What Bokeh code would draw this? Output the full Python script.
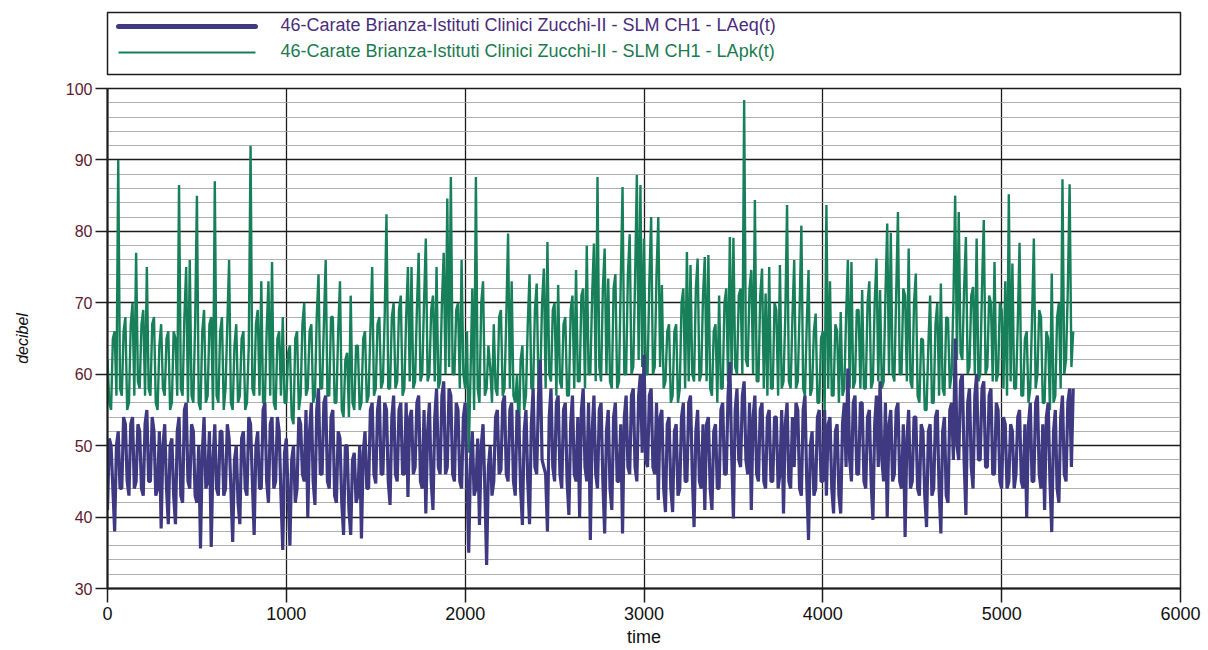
from bokeh.plotting import figure
from bokeh.models import Range1d, FixedTicker, Label
from bokeh.layouts import column
from bokeh.embed import file_html
from bokeh.resources import INLINE
from bokeh.core.properties import value

# ---------------- data ----------------
series_names = [
    "46-Carate Brianza-Istituti Clinici Zucchi-II - SLM CH1 - LAeq(t)",
    "46-Carate Brianza-Istituti Clinici Zucchi-II - SLM CH1 - LApk(t)",
]
y_ticks = [30, 40, 50, 60, 70, 80, 90, 100]
y_minor = [32, 34, 36, 38, 42, 44, 46, 48, 52, 54, 56, 58, 62, 64, 66, 68,
           72, 74, 76, 78, 82, 84, 86, 88, 92, 94, 96, 98]
x_ticks = [0, 1000, 2000, 3000, 4000, 5000, 6000]

# sample times (s), one reading every 10 s
time_s = list(range(0, 5401, 10))

# LApk readings at t = 0, 20, 40, ... 5400 s
lapk_even = [
    62, 55, 66, 90, 57, 68, 56, 70, 77, 58,
    69, 75, 57, 68, 55, 67, 57, 66, 56, 65,
    86.5, 57, 75, 76, 56, 85, 55, 69, 57, 68,
    87, 56, 68, 58, 76, 55, 67, 57, 66, 56,
    92, 57, 69, 73, 56, 73, 75.7, 55, 66, 68,
    56, 64, 53, 66, 57, 70, 58, 67, 57, 74,
    58, 76, 57, 68, 56, 73, 54, 63, 71, 55,
    64, 56, 66, 57, 75, 58, 68, 59, 82.4, 58,
    70, 59, 71, 58, 75, 75, 59, 77, 60, 79,
    60, 71, 75, 59, 77, 84.6, 87.6, 60, 70, 76,
    58, 49, 72, 87.6, 56, 73, 58, 61, 67, 57,
    69, 58, 79.7, 73, 56, 51, 64, 57, 74, 58,
    72.7, 59, 74.8, 78.5, 59, 70, 72.5, 58, 68, 57,
    71, 74.6, 59, 72, 78, 60, 78.3, 87.6, 59, 77.6,
    73.4, 58, 74, 59, 86.2, 60, 79.6, 61, 87.9, 86.5,
    79, 60, 82, 61, 82, 72.5, 59, 67, 57, 67,
    58, 72, 77.1, 75.3, 59, 76.2, 60, 76.4, 76.7, 57,
    67, 71, 58, 72, 79.2, 79.1, 60, 72, 98.4, 61,
    74.6, 84.4, 59, 74.8, 71.3, 75, 58, 69, 75.3, 59,
    83.7, 58, 76, 59, 80.8, 57, 74.6, 58, 68.5, 56,
    66, 83.7, 73, 57, 66, 68.7, 58, 76, 75.7, 59,
    69, 71.8, 58, 73, 59, 76.2, 71.8, 59, 81.1, 79.8,
    59, 82.7, 60, 71, 77.6, 58, 74.1, 56, 64.8, 55,
    71, 56, 70, 72.7, 57, 67.8, 60, 85, 82.7, 62,
    79.2, 61, 72.2, 79, 60, 81.6, 61, 70, 75.7, 60,
    69, 73, 85.2, 75.5, 58, 78.4, 57, 66, 58, 79,
    60, 68, 56, 65, 74.1, 57, 70, 87.3, 62, 86.6,
    66,
]
# LApk readings at t = 10, 30, 50, ... 5390 s
lapk_odd = [
    56, 65, 57, 58, 66, 55, 67, 57, 59, 67,
    57, 58, 67, 56, 64, 58, 65, 55, 66, 57,
    58, 68, 56, 57, 67, 56, 66, 56, 67, 55,
    57, 66, 55, 67, 56, 64, 56, 65, 55, 64,
    58, 67, 57, 56, 66, 57, 56, 65, 57, 56,
    63, 54, 65, 55, 67, 57, 66, 56, 68, 58,
    67, 57, 68, 56, 66, 55, 62, 54, 56, 64,
    55, 65, 56, 66, 57, 67, 58, 68, 58, 68,
    58, 69, 57, 68, 59, 58, 69, 59, 70, 59,
    69, 59, 58, 70, 60, 61, 60, 69, 58, 60,
    66, 60, 55, 58, 70, 57, 64, 56, 58, 68,
    57, 68, 58, 57, 60, 62, 55, 67, 58, 69,
    58, 70, 58, 60, 69, 57, 59, 67, 57, 69,
    58, 59, 71, 58, 60, 71, 59, 61, 72, 60,
    59, 72, 58, 73, 60, 74, 60, 73, 62, 61,
    60, 73, 60, 74, 61, 58, 66, 56, 66, 56,
    70, 58, 59, 60, 72, 59, 71, 59, 58, 66,
    56, 58, 70, 59, 60, 61, 71, 60, 62, 72,
    60, 59, 71, 58, 57, 58, 70, 57, 58, 68,
    59, 68, 58, 69, 58, 67, 57, 66, 56, 65,
    55, 58, 57, 67, 56, 57, 68, 58, 58, 69,
    58, 58, 70, 58, 70, 59, 58, 71, 60, 60,
    71, 60, 72, 59, 59, 70, 57, 65, 55, 64,
    56, 67, 57, 58, 68, 58, 70, 62, 63, 72,
    60, 71, 60, 59, 72, 60, 71, 59, 59, 70,
    58, 57, 59, 58, 67, 57, 65, 56, 68, 58,
    69, 56, 66, 55, 56, 68, 58, 60, 72, 61,
]

# LAeq readings at t = 0, 20, 40, ... 5400 s
laeq_even = [
    41, 50, 38, 52, 44, 53, 43, 54, 45, 52,
    43, 55, 45, 52, 44, 38.4, 53, 39, 51, 39,
    54, 42, 56, 44, 52, 42, 35.6, 54, 45, 35.8,
    53, 43, 52, 44, 51, 36.5, 50, 39, 52, 43,
    53, 37.5, 52, 44, 56, 42, 54, 45, 52, 35.4,
    51, 36, 50, 44, 53, 45, 40, 56, 41.7, 58,
    46, 57, 44, 55, 42, 51, 37.5, 50, 37.5, 49,
    43, 37, 52, 44, 56, 44.7, 57, 46, 55, 41.7,
    57, 45, 56, 46, 42.8, 55, 47, 57, 44, 40.5,
    56, 41, 58, 46, 59, 47, 57, 45, 55, 44,
    56, 35, 52, 44, 38.9, 53, 33.3, 50, 45, 55,
    46.6, 57, 45, 56, 43, 54, 38.9, 55, 39, 58,
    46, 62, 47, 38, 58, 45, 57, 44, 56, 40.3,
    57, 45, 40, 58, 45, 36.8, 57, 44, 56, 37.7,
    55, 41, 56, 45, 37.7, 57, 46, 58, 45, 60,
    62.7, 47, 58, 46, 42.4, 55, 40.7, 54, 40.7, 53,
    44, 56, 45, 57, 38.6, 55, 44, 41, 54, 41,
    53, 44, 56, 46, 61.7, 39.8, 58, 47, 59, 46,
    41, 57, 45, 56, 44, 55, 45, 54, 46, 40.5,
    56, 44, 47, 55, 43, 57, 36.8, 52, 44, 55,
    45, 43, 54, 40.5, 53, 40.5, 56, 60.8, 45, 57,
    46, 56, 44, 55, 39.6, 57, 59, 45, 40, 55,
    46, 56, 44, 37.2, 55, 45, 54, 43, 52, 38.6,
    53, 44, 55, 37.7, 54, 42, 56, 65, 48, 60,
    40.3, 58, 44, 60, 48, 59, 47, 58, 46, 55,
    44, 53, 45, 52, 46, 55, 44, 40, 56, 45,
    57, 44, 41, 56, 37.9, 55, 42, 57, 45, 58,
    58,
]
# LAeq readings at t = 10, 30, 50, ... 5390 s
laeq_odd = [
    51, 44, 50, 44, 54, 45, 53, 44, 53, 44,
    53, 45, 54, 43, 52, 50, 44, 50, 43, 52,
    43, 55, 45, 53, 43, 50, 49, 44, 52, 48,
    44, 52, 43, 53, 44, 48, 42, 51, 44, 54,
    45, 50, 44, 55, 45, 53, 44, 54, 43, 49,
    43, 48, 42, 54, 46, 55, 52, 45, 55, 46,
    56, 45, 54, 43, 52, 42, 50, 41, 48, 42,
    50, 49, 44, 55, 46, 55, 46, 56, 45, 54,
    46, 55, 46, 56, 54, 46, 56, 45, 55, 52,
    45, 54, 47, 57, 46, 58, 46, 56, 45, 54,
    45, 48, 43, 51, 50, 44, 47, 43, 54, 46,
    56, 46, 55, 45, 55, 44, 52, 45, 53, 47,
    57, 48, 46, 54, 47, 56, 46, 55, 45, 53,
    46, 54, 55, 47, 56, 52, 46, 55, 45, 52,
    44, 54, 45, 53, 54, 47, 57, 47, 57, 49,
    48, 57, 47, 56, 54, 44, 53, 44, 52, 43,
    54, 45, 56, 46, 52, 45, 53, 53, 44, 52,
    44, 55, 46, 57, 49, 55, 48, 57, 48, 56,
    54, 46, 55, 45, 54, 45, 54, 44, 55, 53,
    45, 54, 56, 44, 55, 45, 50, 43, 54, 45,
    55, 53, 44, 52, 43, 53, 47, 48, 56, 46,
    56, 45, 54, 45, 53, 47, 48, 56, 53, 45,
    55, 45, 53, 51, 44, 54, 44, 53, 43, 52,
    43, 54, 44, 52, 43, 55, 48, 50, 59, 48,
    56, 47, 57, 48, 58, 47, 57, 46, 56, 45,
    54, 44, 53, 44, 54, 45, 53, 53, 45, 56,
    46, 53, 54, 45, 52, 44, 54, 46, 56, 47,
]

# merge the two reading sets into time order
lapk = [v for pair in zip(lapk_even, lapk_odd) for v in pair] + [lapk_even[-1]]
laeq = [v for pair in zip(laeq_even, laeq_odd) for v in pair] + [laeq_even[-1]]

# ---------------- style ----------------
FONT = "Liberation Sans"
PURPLE = "#3f3982"
GREEN = "#17805a"
PURPLE_TXT = "#4a2c7c"
GREEN_TXT = "#1a7b50"
MAROON = "#5e1a2e"
DARK = "#1c1c1c"

# ---------------- legend strip ----------------
leg = figure(width=1208, height=80, x_range=Range1d(0, 1073), y_range=Range1d(62, 0),
             output_backend="svg", toolbar_location=None,
             x_axis_location=None, y_axis_location=None,
             min_border_left=107, min_border_right=28, min_border_top=12, min_border_bottom=6)
leg.grid.visible = False
leg.outline_line_color = DARK
leg.outline_line_width = 1.5
leg.line(x=[11, 148], y=[14, 14], line_width=5, line_color=PURPLE, line_cap="round")
leg.line(x=[11, 148], y=[40, 40], line_width=2, line_color=GREEN)
leg.text(x=[173, 173], y=[12, 38], text=series_names,
         text_color=[PURPLE_TXT, GREEN_TXT], text_font=value(FONT),
         text_font_size="18px", text_baseline="middle", text_align="left")

# ---------------- main chart ----------------
p = figure(width=1208, height=570, x_range=Range1d(0, 6000), y_range=Range1d(30, 100),
           output_backend="svg", toolbar_location=None,
           min_border_left=107, min_border_right=28, min_border_top=8, min_border_bottom=62)

p.line(time_s, lapk, line_color=GREEN, line_width=2.4)
p.line(time_s, laeq, line_color=PURPLE, line_width=3.2)

p.xaxis.ticker = FixedTicker(ticks=x_ticks)
p.yaxis.ticker = FixedTicker(ticks=y_ticks, minor_ticks=y_minor)

p.ygrid.grid_line_color = DARK
p.ygrid.grid_line_width = 1.3
p.ygrid.minor_grid_line_color = "#9c9c9c"
p.ygrid.minor_grid_line_width = 0.8
p.xgrid.grid_line_color = DARK
p.xgrid.grid_line_width = 1.3
p.outline_line_color = DARK
p.outline_line_width = 1.5

for ax in (p.xaxis[0], p.yaxis[0]):
    ax.axis_line_color = DARK
    ax.axis_line_width = 2
    ax.major_tick_line_color = DARK
    ax.major_tick_line_width = 1.5
    ax.major_tick_in = 0
    ax.minor_tick_line_color = None
    ax.axis_label_text_font = FONT
    ax.axis_label_text_color = "#111111"

p.yaxis.major_tick_out = 12
p.yaxis.major_label_standoff = 3
p.yaxis.major_label_text_color = MAROON
p.yaxis.major_label_text_font = FONT
p.yaxis.major_label_text_font_size = "16px"
p.yaxis.axis_label = "decibel"
p.yaxis.axis_label_text_font_style = "italic"
p.yaxis.axis_label_text_font_size = "16px"
p.yaxis.axis_label_standoff = 32

p.xaxis.major_tick_out = 14
p.xaxis.major_label_standoff = 4
p.xaxis.major_label_text_color = "#111111"
p.xaxis.major_label_text_font = FONT
p.xaxis.major_label_text_font_size = "18px"
p.xaxis.axis_label = "time"
p.xaxis.axis_label_text_font_style = "normal"
p.xaxis.axis_label_text_font_size = "18px"
p.xaxis.axis_label_standoff = 4

p.add_layout(Label(x=0, y=94.8, text="dB", x_offset=-15, text_align="right",
                   text_baseline="middle", text_color=MAROON, text_font=FONT,
                   text_font_size="16px"))
p.add_layout(Label(x=500, y=30, text="s", y_offset=-18, text_align="center",
                   text_baseline="top", text_color="#111111", text_font=FONT,
                   text_font_size="18px"))

layout = column(leg, p, spacing=0)
open("out.html", "w").write(file_html(layout, INLINE))
